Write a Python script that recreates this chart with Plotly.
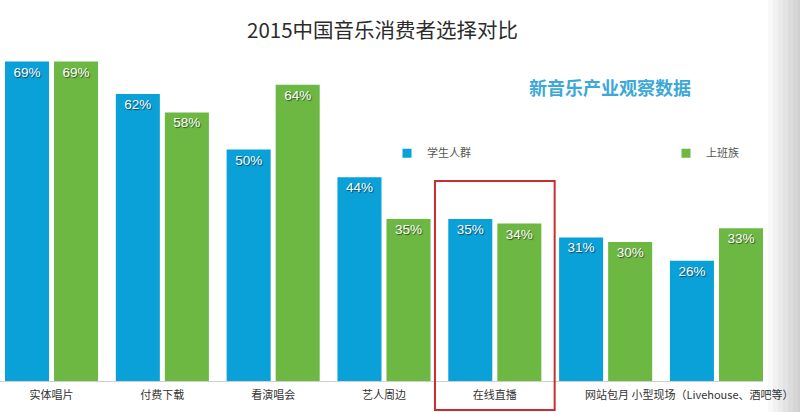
import plotly.graph_objects as go

# Dados
categorias = ['实体唱片', '付费下载', '看演唱会', '艺人周边', '在线直播', '网站包月', '小型现场（Livehouse、酒吧等）']
rotulos = ['实体唱片', '付费下载', '看演唱会', '艺人周边', '在线直播', '', '']
estudantes = [69, 62, 50, 44, 35, 31, 26]
trabalhadores = [69, 58, 64, 35, 34, 30, 33]
series = ['学生人群', '上班族']

azul = '#0aa0d8'
verde = '#6db843'
sombra = '1px 1px 1px rgba(0,0,0,0.55)'

fig = go.Figure()
fig.add_trace(go.Bar(x=categorias, y=estudantes, name=series[0], showlegend=False,
                     marker=dict(color=azul, line=dict(width=0)),
                     text=[f'{v}%' for v in estudantes]))
fig.add_trace(go.Bar(x=categorias, y=trabalhadores, name=series[1], showlegend=False,
                     marker=dict(color=verde, line=dict(width=0)),
                     text=[f'{v}%' for v in trabalhadores]))

fig.update_traces(textposition='inside',
                  insidetextanchor='end',
                  textangle=0,
                  textfont=dict(family='Liberation Sans, Arial', size=13.5, color='white', shadow=sombra),
                  cliponaxis=False)

# Legenda com quadrados pequenos
for nome, cor, leg in zip(series, [azul, verde], ['legend', 'legend2']):
    fig.add_trace(go.Scatter(x=[None], y=[None], mode='markers', name=nome, legend=leg,
                             marker=dict(symbol='square', size=9, color=cor)))

legenda = dict(orientation='h', y=0.598, xanchor='left', yanchor='middle',
               font=dict(size=11, color='#555'), bgcolor='rgba(0,0,0,0)')

fig.update_layout(width=800, height=412,
                  margin=dict(l=0, r=37, t=0, b=31),
                  paper_bgcolor='white', plot_bgcolor='white',
                  barmode='group', bargap=0.115, bargroupgap=0.102,
                  uniformtext=dict(minsize=8, mode='show'),
                  font=dict(family='Noto Sans CJK SC', color='#333'),
                  showlegend=True,
                  legend=dict(legenda, x=387 / 763),
                  legend2=dict(legenda, x=666 / 763),
                  xaxis=dict(range=[-0.465, 6.42], tickmode='array', tickvals=categorias, ticktext=rotulos,
                             tickfont=dict(size=11, color='#333'), showline=True, linecolor='#cfcfcf',
                             linewidth=1, showgrid=False, ticks='', ticklabelstandoff=4),
                  yaxis=dict(range=[0, 82.3], visible=False, showgrid=False, zeroline=False))

# Titulo e subtitulo
fig.add_annotation(text='2015中国音乐消费者选择对比', xref='paper', yref='paper', x=382 / 763, y=0.925,
                   xanchor='center', yanchor='middle', showarrow=False,
                   font=dict(size=20.5, color='#2b2b2b'))
fig.add_annotation(text='<b>新音乐产业观察数据</b>', xref='paper', yref='paper', x=0.799, y=0.772,
                   xanchor='center', yanchor='middle', showarrow=False,
                   font=dict(size=18, color='#3ba8d8'))
fig.add_annotation(text='网站包月 小型现场（Livehouse、酒吧等）', xref='paper', yref='paper', x=0.904, y=0,
                   xanchor='center', yanchor='top', yshift=-3, showarrow=False,
                   font=dict(size=11, color='#333'))

# Destaque em vermelho
fig.add_shape(type='rect', xref='x', yref='paper', x0=3.46, x1=4.54, y0=-0.076, y1=0.525,
              line=dict(color='#c62f2f', width=2), fillcolor='rgba(0,0,0,0)')

# Sombra da borda direita
for i in range(7):
    fig.add_shape(type='rect', xref='paper', yref='paper', x0=(768 + i * 5) / 763, x1=1.05,
                  y0=-0.09, y1=1.0, line=dict(width=0), fillcolor='rgba(0,0,0,0.028)', layer='below')

fig.write_html('out.html', config={'displayModeBar': False},
               post_script="document.body.style.margin = '0';")
